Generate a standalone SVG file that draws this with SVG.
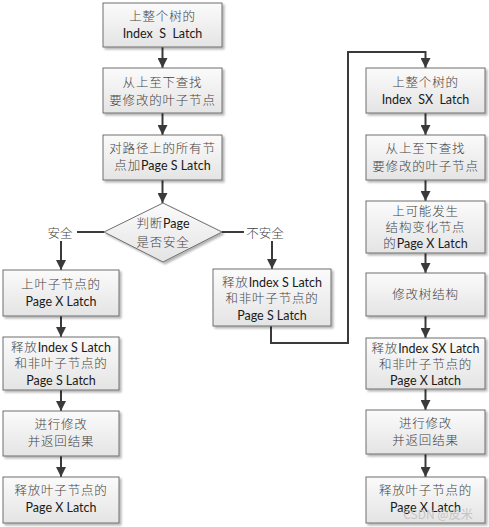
<svg xmlns="http://www.w3.org/2000/svg" width="489" height="527" viewBox="0 0 489 527">
<defs>
<linearGradient id="g" x1="0" y1="0" x2="0" y2="1">
<stop offset="0" stop-color="#fbfbfb"/>
<stop offset="1" stop-color="#e4e4e4"/>
</linearGradient>
<filter id="sh" x="-10%" y="-10%" width="130%" height="140%">
<feGaussianBlur in="SourceAlpha" stdDeviation="1.2"/>
<feOffset dx="2" dy="2" result="b"/>
<feComponentTransfer><feFuncA type="linear" slope="0.3"/></feComponentTransfer>
<feMerge><feMergeNode/><feMergeNode in="SourceGraphic"/></feMerge>
</filter>
<marker id="ah" viewBox="0 0 10 10" refX="10" refY="5" markerWidth="10" markerHeight="10" markerUnits="userSpaceOnUse" orient="auto">
<path d="M0,0 L10,5 L0,10 z" fill="#3a3a3a"/>
</marker>
</defs>
<style>
.box{fill:url(#g);stroke:#6e6e6e;stroke-width:1;filter:url(#sh)}
.t{font-family:Lato,"Noto Sans CJK SC",sans-serif;font-size:12.5px;fill:#1a1a1a;text-anchor:middle;dominant-baseline:central}
.cn{letter-spacing:0.8px;fill:#444;font-weight:300}
.c{fill:none;stroke:#3a3a3a;stroke-width:2}
.lab{font-family:"Noto Sans CJK SC",sans-serif;font-size:12.5px;fill:#444;font-weight:300;text-anchor:middle;dominant-baseline:central}
</style>
<rect width="489" height="527" fill="#ffffff"/>

<g id="connectors">
<path class="c" d="M162.5,47 V68" marker-end="url(#ah)"/>
<path class="c" d="M162.5,113 V135" marker-end="url(#ah)"/>
<path class="c" d="M162.5,180 V203" marker-end="url(#ah)"/>
<path class="c" d="M104,232 H77"/>
<path class="c" d="M61,241 V270" marker-end="url(#ah)"/>
<path class="c" d="M222,232 H244"/>
<path class="c" d="M272,241 V269" marker-end="url(#ah)"/>
<path class="c" d="M61,316 V337" marker-end="url(#ah)"/>
<path class="c" d="M61,390 V411" marker-end="url(#ah)"/>
<path class="c" d="M61,456 V477" marker-end="url(#ah)"/>
<path class="c" d="M271,326 V343 H348 V52 H425.5 V68" marker-end="url(#ah)"/>
<path class="c" d="M425.5,113 V135" marker-end="url(#ah)"/>
<path class="c" d="M425.5,180 V201" marker-end="url(#ah)"/>
<path class="c" d="M425.5,253 V273" marker-end="url(#ah)"/>
<path class="c" d="M425.5,316 V338" marker-end="url(#ah)"/>
<path class="c" d="M425.5,389 V410" marker-end="url(#ah)"/>
<path class="c" d="M425.5,454 V477" marker-end="url(#ah)"/>
<text class="lab" x="60" y="232">安全</text>
<text class="lab" x="265" y="232">不安全</text>
</g>

<g id="L1"><rect class="box" x="103" y="3" width="119" height="44"/>
<text class="t" x="162.5" y="16"><tspan class="cn">上整个树的</tspan></text>
<text class="t" x="162.5" y="33" xml:space="preserve">Index  S  Latch</text></g>

<g id="L2"><rect class="box" x="103" y="68" width="119" height="45"/>
<text class="t" x="162.5" y="82"><tspan class="cn">从上至下查找</tspan></text>
<text class="t" x="162.5" y="100"><tspan class="cn">要修改的叶子节点</tspan></text></g>

<g id="L3"><rect class="box" x="103" y="135" width="119" height="45"/>
<text class="t" x="162.5" y="148"><tspan class="cn">对路径上的所有节</tspan></text>
<text class="t" x="162.5" y="165"><tspan class="cn">点加</tspan>Page S Latch</text></g>

<g id="D"><polygon class="box" points="163,203 222,232 163,262 104,232"/>
<text class="t" x="163" y="223"><tspan class="cn">判断</tspan>Page</text>
<text class="t" x="163" y="242"><tspan class="cn">是否安全</tspan></text></g>

<g id="LA"><rect class="box" x="3" y="270" width="116" height="46"/>
<text class="t" x="61" y="284"><tspan class="cn">上叶子节点的</tspan></text>
<text class="t" x="61" y="301">Page X Latch</text></g>

<g id="LB"><rect class="box" x="3" y="337" width="116" height="53"/>
<text class="t" x="61" y="347"><tspan class="cn">释放</tspan>Index S Latch</text>
<text class="t" x="61" y="363"><tspan class="cn">和非叶子节点的</tspan></text>
<text class="t" x="61" y="380">Page S Latch</text></g>

<g id="LC"><rect class="box" x="3" y="411" width="116" height="45"/>
<text class="t" x="61" y="424"><tspan class="cn">进行修改</tspan></text>
<text class="t" x="61" y="441"><tspan class="cn">并返回结果</tspan></text></g>

<g id="LD"><rect class="box" x="3" y="477" width="116" height="46"/>
<text class="t" x="61" y="490"><tspan class="cn">释放叶子节点的</tspan></text>
<text class="t" x="61" y="507">Page X Latch</text></g>

<g id="R0"><rect class="box" x="213" y="269" width="118" height="57"/>
<text class="t" x="272" y="282"><tspan class="cn">释放</tspan>Index S Latch</text>
<text class="t" x="272" y="298"><tspan class="cn">和非叶子节点的</tspan></text>
<text class="t" x="272" y="315">Page S Latch</text></g>

<g id="R1"><rect class="box" x="366" y="68" width="119" height="45"/>
<text class="t" x="425.5" y="82"><tspan class="cn">上整个树的</tspan></text>
<text class="t" x="425.5" y="99" xml:space="preserve">Index  SX  Latch</text></g>

<g id="R2"><rect class="box" x="366" y="135" width="119" height="45"/>
<text class="t" x="425.5" y="148"><tspan class="cn">从上至下查找</tspan></text>
<text class="t" x="425.5" y="166"><tspan class="cn">要修改的叶子节点</tspan></text></g>

<g id="R3"><rect class="box" x="366" y="201" width="119" height="52"/>
<text class="t" x="425.5" y="211"><tspan class="cn">上可能发生</tspan></text>
<text class="t" x="425.5" y="227"><tspan class="cn">结构变化节点</tspan></text>
<text class="t" x="425.5" y="243"><tspan class="cn">的</tspan>Page X Latch</text></g>

<g id="R4"><rect class="box" x="366" y="273" width="119" height="43"/>
<text class="t" x="425.5" y="294"><tspan class="cn">修改树结构</tspan></text></g>

<g id="R5"><rect class="box" x="366" y="338" width="119" height="51"/>
<text class="t" x="425.5" y="348"><tspan class="cn">释放</tspan>Index SX Latch</text>
<text class="t" x="425.5" y="364"><tspan class="cn">和非叶子节点的</tspan></text>
<text class="t" x="425.5" y="380">Page X Latch</text></g>

<g id="R6"><rect class="box" x="366" y="410" width="119" height="44"/>
<text class="t" x="425.5" y="423"><tspan class="cn">进行修改</tspan></text>
<text class="t" x="425.5" y="440"><tspan class="cn">并返回结果</tspan></text></g>

<g id="R7"><rect class="box" x="366" y="477" width="119" height="46"/>
<text class="t" x="425.5" y="490"><tspan class="cn">释放叶子节点的</tspan></text>
<text class="t" x="425.5" y="507">Page X Latch</text></g>

<text x="438" y="513" font-family="'Noto Sans CJK SC',sans-serif" font-size="12" fill="#bbbbbb" fill-opacity="0.8" text-anchor="middle" dominant-baseline="central">CSDN @皮米</text>
</svg>
